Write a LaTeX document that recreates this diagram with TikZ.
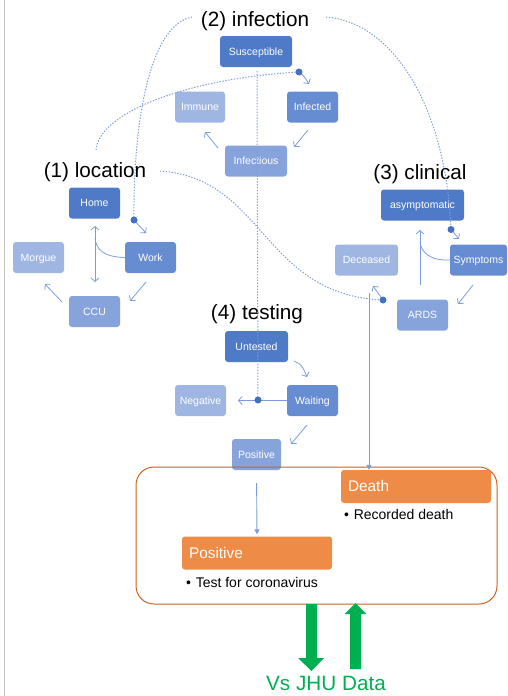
\documentclass[tikz,border=0pt]{standalone}
\usepackage{fontspec}
\setmainfont{Liberation Sans}
\usetikzlibrary{arrows.meta}
\definecolor{cdark}{HTML}{4E7AC8}
\definecolor{cmed}{HTML}{668CD2}
\definecolor{clight}{HTML}{87A3DC}
\definecolor{clightest}{HTML}{A0B6E2}
\definecolor{arrowblue}{HTML}{7D9DDA}
\definecolor{dotblue}{HTML}{7F9EDB}
\definecolor{dotfill}{HTML}{4470C4}
\definecolor{orangefill}{HTML}{EE8B47}
\definecolor{orangeline}{HTML}{C8631F}
\definecolor{jhugreen}{HTML}{00B050}
\begin{document}
\begin{tikzpicture}[x=1pt,y=-1pt,
  state/.style={rounded corners=3pt, minimum height=31pt, inner sep=0pt, text=white,
    font=\fontsize{10.5}{12}\selectfont, text height=8pt, text depth=0.5pt},
  sdark/.style={state, fill=cdark},
  smed/.style={state, fill=cmed},
  slight/.style={state, fill=clight},
  slightest/.style={state, fill=clightest},
  lbl/.style={anchor=base, font=\fontsize{20.7}{24}\selectfont, inner sep=0pt},
  trans/.style={arrowblue, line width=0.8pt, -{Straight Barb[length=3.5pt,width=8pt]}},
  dotline/.style={dotblue, line width=1pt, dash pattern=on 1.4pt off 1.5pt},
  linkdot/.style={dotfill},
  obox/.style={fill=orangefill, rounded corners=3pt, minimum width=150pt, minimum height=33pt,
    inner sep=7pt, text width=136pt, align=left, text=white,
    font=\fontsize{15.4}{18}\selectfont, text height=10.5pt, text depth=0pt},
  note/.style={anchor=base west, inner sep=0pt, font=\fontsize{14}{17}\selectfont},
  solidarrow/.style={arrowblue, line width=0.9pt, -{Triangle[length=5pt,width=5pt]}}
]
\useasboundingbox (0,0) rectangle (507,696);
\draw[gray!45, line width=0.8pt] (4,0) -- (4,696);

% labels
\node[lbl] (lblinf) at (255,26) {(2) infection};
\node[lbl] (lblloc) at (95,177) {(1) location};
\node[lbl] (lblcli) at (420,179) {(3) clinical};
\node[lbl] (lbltest) at (257,319) {(4) testing};

% infection
\node[sdark, minimum width=72pt] (susc) at (256,51.5) {Susceptible};
\node[slightest, minimum width=50pt] (immune) at (200,107) {Immune};
\node[smed, minimum width=51pt] (infected) at (312.5,107) {Infected};
\node[slight, minimum width=62pt] (infectious) at (256,161) {Infectious};

% location
\node[sdark, minimum width=51pt] (home) at (94.5,203) {Home};
\node[smed, minimum width=51pt] (work) at (150.5,257.5) {Work};
\node[slightest, minimum width=51pt] (morgue) at (38.5,257.5) {Morgue};
\node[slight, minimum width=51pt] (ccu) at (94.5,311.5) {CCU};

% clinical
\node[sdark, minimum width=83pt] (asym) at (422.5,205) {asymptomatic};
\node[smed, minimum width=57pt] (symp) at (478.5,260) {Symptoms};
\node[slightest, minimum width=63pt] (deceased) at (366.5,260) {Deceased};
\node[slight, minimum width=51pt] (ards) at (422.5,315) {ARDS};

% testing
\node[sdark, minimum width=63pt] (untested) at (256.5,346.5) {Untested};
\node[smed, minimum width=51pt] (waiting) at (312.5,400.5) {Waiting};
\node[slightest, minimum width=51pt] (negative) at (200.5,400.5) {Negative};
\node[slight, minimum width=49pt] (positive) at (256.5,454.5) {Positive};

% dots (coordinates)
\coordinate (dInf) at (299,72);
\coordinate (dWork) at (134,220);
\coordinate (dSymp) at (451,229.5);
\coordinate (dDec) at (383,300);
\coordinate (dNeg) at (258,400);

% dotted influence lines
\draw[dotline] (96,150) .. controls (99,112) and (190,78) .. (dInf);
\draw[dotline] (192,17) .. controls (150,25) and (133,120) .. (dWork);
\draw[dotline] (326,17) .. controls (392,22) and (446,105) .. (dSymp);
\draw[dotline] (160,171) .. controls (265,178) and (262,295) .. (dDec);
\draw[dotline] (257,71) -- (dNeg);

% transitions: infection
\draw[trans] (dInf) .. controls (304,76) .. (309,84);
\draw[trans] (308,130) -- (294,147);
\draw[trans] (218,148) -- (205,132);

% location
\draw[arrowblue, line width=0.8pt, {Straight Barb[length=3.5pt,width=8pt]}-{Straight Barb[length=3.5pt,width=8pt]}] (95,226) -- (95,282);
\draw[arrowblue, line width=0.8pt] (work.west) .. controls (103,257) and (96,249) .. (95,238);
\draw[trans] (dWork) -- (146,233);
\draw[trans] (146,282) -- (130,301);
\draw[trans] (62,302) -- (45,284);

% clinical
\draw[trans] (dSymp) -- (459,239);
\draw[trans] (473,285) -- (458,304);
\draw[trans] (420,285) -- (420,230);
\draw[arrowblue, line width=0.8pt] (symp.west) .. controls (430,261) and (421,252) .. (420,242);
\draw[trans] (dDec) -- (373,286);

% testing
\draw[trans] (294,361) .. controls (302,365) .. (307,377);
\draw[trans] (waiting.west) -- (238,400.5);
\draw[trans] (307,425) -- (291,444);

% dots on top
\foreach \d in {dInf,dWork,dSymp,dDec,dNeg} \fill[linkdot] (\d) circle (3.5pt);

% summary box
\draw[orangeline, line width=1pt, rounded corners=18pt] (136,467) rectangle (497,604);
\node[obox] (death) at (416,486.5) {Death};
\node[note] (deathnote) at (344,519) {•\,\,Recorded death};
\node[obox] (posbox) at (257,553) {Positive};
\node[note] (posnote) at (186,587) {•\,\,Test for coronavirus};

\coordinate (ardsline) at (369,293);
\draw[solidarrow] (ardsline) -- (ardsline |- death.north);
\draw[solidarrow, shorten <=13pt, shorten >=2pt] (positive.south) -- (posbox.north);

% JHU arrows
\fill[jhugreen] (306,604) -- (317,604) -- (317,658) -- (324,658) -- (311.5,671) -- (298,658) -- (306,658) -- cycle;
\fill[jhugreen] (350,669) -- (361,669) -- (361,614) -- (366.5,614) -- (355.5,603) -- (344.5,614) -- (350,614) -- cycle;
\node[lbl, text=jhugreen] (jhu) at (326,690) {Vs JHU Data};
\end{tikzpicture}
\end{document}
